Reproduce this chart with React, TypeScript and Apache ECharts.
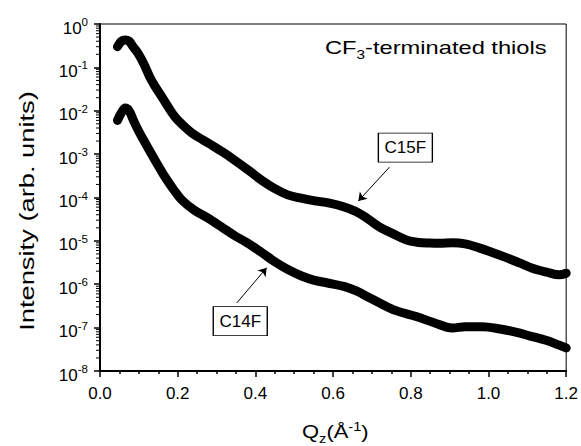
import React, { useEffect, useRef } from "react";
import * as echarts from "echarts";

// Q_z values (Å^-1) and intensities
const qC15F = [0.045, 0.055, 0.065, 0.075, 0.085, 0.098, 0.113, 0.128, 0.143, 0.159, 0.176, 0.193, 0.215, 0.236, 0.262, 0.288, 0.317, 0.347, 0.38, 0.416, 0.45, 0.483, 0.514, 0.55, 0.591, 0.625, 0.66, 0.69, 0.719, 0.755, 0.789, 0.82, 0.848, 0.875, 0.907, 0.94, 0.976, 1.01, 1.046, 1.08, 1.113, 1.15, 1.182, 1.2];
const iC15F = [0.3, 0.4, 0.43, 0.4, 0.3, 0.21, 0.12, 0.06, 0.035, 0.021, 0.012, 0.0072, 0.0045, 0.0031, 0.0022, 0.0016, 0.0011, 7.2e-4, 4.4e-4, 2.5e-4, 1.6e-4, 1.15e-4, 9.8e-5, 8.5e-5, 7.4e-5, 6.2e-5, 4.7e-5, 3.2e-5, 2.1e-5, 1.45e-5, 1.05e-5, 9.2e-6, 8.9e-6, 8.8e-6, 9.0e-6, 8.5e-6, 6.9e-6, 5.4e-6, 4.1e-6, 3.1e-6, 2.35e-6, 1.9e-6, 1.65e-6, 1.8e-6];

const qC14F = [0.045, 0.055, 0.065, 0.075, 0.085, 0.098, 0.115, 0.134, 0.15, 0.167, 0.19, 0.211, 0.244, 0.277, 0.313, 0.345, 0.38, 0.415, 0.45, 0.485, 0.519, 0.55, 0.586, 0.63, 0.66, 0.69, 0.72, 0.76, 0.814, 0.86, 0.907, 0.94, 0.984, 1.03, 1.07, 1.11, 1.148, 1.18, 1.2];
const iC14F = [6.0e-3, 9.0e-3, 1.15e-2, 1.0e-2, 6.3e-3, 3.6e-3, 1.9e-3, 9.5e-4, 5.4e-4, 3.0e-4, 1.5e-4, 8.7e-5, 5.0e-5, 3.4e-5, 2.1e-5, 1.35e-5, 8.9e-6, 5.5e-6, 3.3e-6, 2.15e-6, 1.55e-6, 1.25e-6, 1.07e-6, 8.8e-7, 7.0e-7, 5.1e-7, 3.7e-7, 2.5e-7, 1.8e-7, 1.3e-7, 9.8e-8, 1.05e-7, 1.05e-7, 9.3e-8, 7.9e-8, 6.3e-8, 5.1e-8, 4.0e-8, 3.4e-8];

// axis ranges
const xMin = 0;
const xMax = 1.2;
const xInterval = 0.2;
const yMin = 1e-8;
const yMax = 1;
const decadeExponents = [-8, -7, -6, -5, -4, -3, -2, -1];
const minorMultipliers = [2, 3, 4, 5, 6, 7, 8, 9];

// annotations: label, box centre (q, I), arrow start (q, I), arrow end (q, I)
const labelNames = ["C15F", "C14F"];
const labelBoxAt: [number, number][] = [[0.786, 1.42e-3], [0.361, 1.42e-7]];
const arrowFrom: [number, number][] = [[0.745, 5.0e-4], [0.352, 3.7e-7]];
const arrowTo: [number, number][] = [[0.665, 8.3e-5], [0.429, 2.4e-6]];

const titleText = "{a|CF}{s|3}{a|-terminated thiols}";
const xName = "{a|Q}{sub|z}{a|(Å}{sup|-1}{a|)}";
const yName = "Intensity (arb. units)";

const FONT = "'Liberation Sans', Arial, Helvetica, sans-serif";

export default function App() {
  const ref = useRef<HTMLDivElement>(null);
  useEffect(() => {
    document.body.style.margin = "0";
    const chart = echarts.init(ref.current!, undefined, { renderer: "svg" });
    const pair = (qs: number[], is: number[]) => qs.map((q, k) => [q, is[k]]);
    const lineStyle = { color: "#000", width: 9, cap: "round", join: "round" };
    const minorTickData: number[][] = [];
    decadeExponents.forEach((e) => minorMultipliers.forEach((m) => minorTickData.push([xMin, m * Math.pow(10, e)])));

    const annot = (k: number) => ({
      markLine: {
        silent: true,
        symbol: ["none", "arrow"],
        symbolSize: 8,
        label: { show: false },
        lineStyle: { color: "#000", width: 1, type: "solid" },
        data: [[{ coord: arrowFrom[k] }, { coord: arrowTo[k] }]],
      },
      markPoint: {
        silent: true,
        symbol: "rect",
        symbolSize: [54, 29],
        itemStyle: { color: "#fff", borderColor: "#000", borderWidth: 1 },
        label: { show: true, position: "inside", color: "#000", fontSize: 17, fontFamily: FONT, formatter: labelNames[k] },
        data: [{ coord: labelBoxAt[k], name: labelNames[k] }],
      },
    });

    chart.setOption({
      animation: false,
      backgroundColor: "#fff",
      textStyle: { fontFamily: FONT },
      graphic: [
        {
          type: "text",
          x: 325,
          y: 48,
          scaleX: 1.28,
          style: {
            text: titleText,
            fill: "#000",
            verticalAlign: "middle",
            rich: {
              a: { fontSize: 18.5, fill: "#000", fontFamily: FONT },
              s: { fontSize: 12, fill: "#000", fontFamily: FONT, padding: [14, 0, 0, 0] },
            },
          },
        },
        {
          type: "text",
          x: 302,
          y: 432,
          scaleX: 1.22,
          style: {
            text: xName,
            fill: "#000",
            verticalAlign: "middle",
            rich: {
              a: { fontSize: 18, fill: "#000", fontFamily: FONT },
              sub: { fontSize: 12, fill: "#000", fontFamily: FONT, padding: [14, 0, 0, 0] },
              sup: { fontSize: 12, fill: "#000", fontFamily: FONT, padding: [0, 0, 10, 0] },
            },
          },
        },
        {
          type: "text",
          x: 27,
          y: 211,
          rotation: Math.PI / 2,
          scaleX: 1.3,
          style: {
            text: yName,
            fill: "#000",
            fontSize: 21,
            fontFamily: FONT,
            align: "center",
            verticalAlign: "middle",
          },
        },
      ],
      grid: {
        left: 100,
        right: 14,
        top: 24,
        bottom: 75,
        show: true,
        borderColor: "#000",
        borderWidth: 1,
      },
      xAxis: {
        type: "value",
        min: xMin,
        max: xMax,
        interval: xInterval,
        axisLine: { show: true, lineStyle: { color: "#000", width: 2 } },
        axisTick: { show: true, length: 6, lineStyle: { color: "#000", width: 1.5 } },
        minorTick: { show: true, splitNumber: 4, length: 3, lineStyle: { color: "#000", width: 1.5 } },
        splitLine: { show: false },
        axisLabel: {
          color: "#000",
          fontSize: 17,
          margin: 14,
          fontFamily: FONT,
          formatter: (v: number) => v.toFixed(1),
        },
      },
      yAxis: {
        type: "log",
        logBase: 10,
        min: yMin,
        max: yMax,
        interval: 1,
        axisLine: { show: true, lineStyle: { color: "#000", width: 2 } },
        axisTick: { show: true, length: 6, lineStyle: { color: "#000", width: 1.5 } },
        minorTick: { show: false },
        splitLine: { show: false },
        minorSplitLine: { show: false },
        axisLabel: {
          margin: 12,
          formatter: (v: number) => `{b|10}{s|${Math.round(Math.log10(v))}}`,
          rich: {
            b: { fontSize: 17, color: "#000", fontFamily: FONT, padding: [8, 0, 0, 0] },
            s: { fontSize: 11.5, color: "#000", fontFamily: FONT, padding: [0, 0, 4, 0] },
          },
        },
      },
      series: [
        {
          name: "C15F",
          type: "line",
          data: pair(qC15F, iC15F),
          showSymbol: false,
          smooth: 0.35,
          lineStyle,
          itemStyle: { color: "#000" },
          z: 3,
          ...annot(0),
        },
        {
          name: "C14F",
          type: "line",
          data: pair(qC14F, iC14F),
          showSymbol: false,
          smooth: 0.35,
          lineStyle,
          itemStyle: { color: "#000" },
          z: 3,
          ...annot(1),
        },
        {
          name: "minor ticks",
          type: "custom",
          silent: true,
          clip: false,
          data: minorTickData,
          renderItem: (_params: any, api: any) => {
            const p = api.coord([api.value(0), api.value(1)]);
            return {
              type: "line",
              shape: { x1: p[0] - 4, y1: p[1], x2: p[0], y2: p[1] },
              style: { stroke: "#000", lineWidth: 1 },
            };
          },
          z: 4,
        },
      ],
    });
    return () => chart.dispose();
  }, []);
  return <div ref={ref} style={{ width: 581, height: 446 }} />;
}
